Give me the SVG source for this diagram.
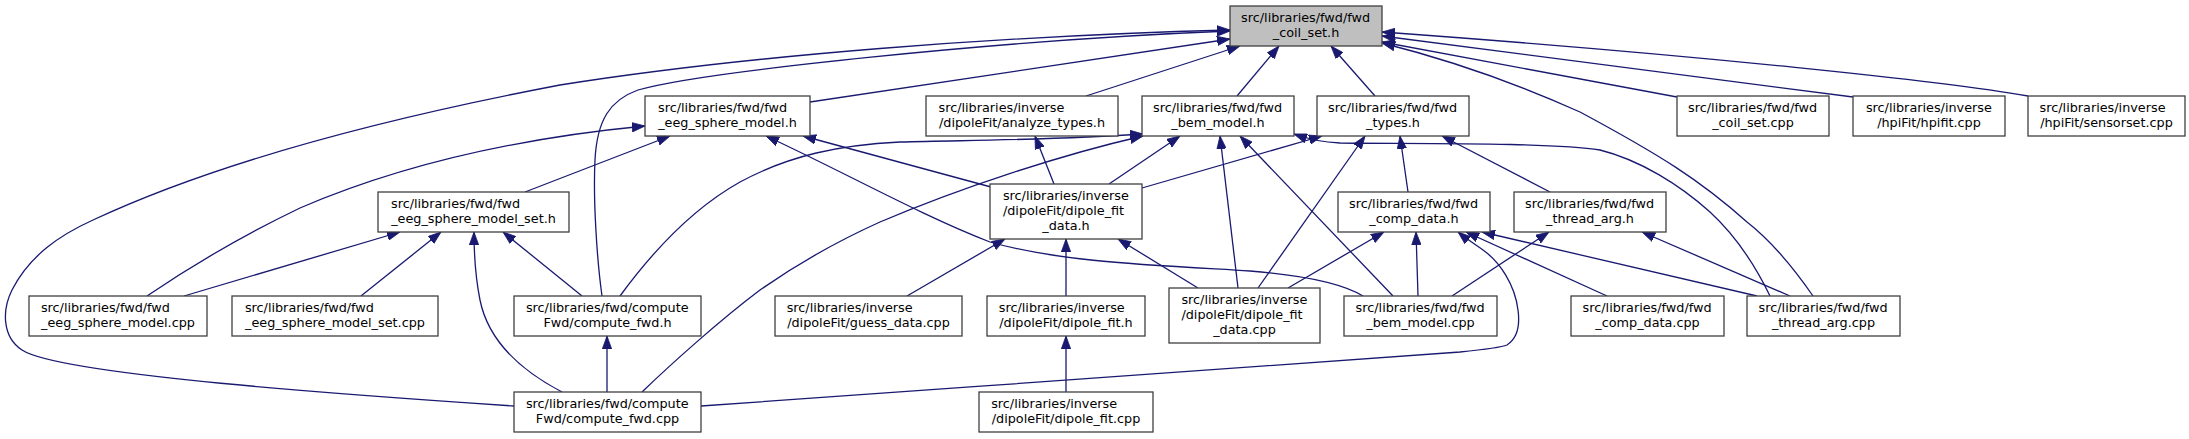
<svg xmlns="http://www.w3.org/2000/svg" width="2189" height="439" viewBox="0 0 2189 439">
<style>
.n rect{fill:#ffffff;stroke:#404040;stroke-width:1.3}
.root rect{fill:#bfbfbf}
.n text{font-family:"DejaVu Sans",Verdana,sans-serif;font-size:12.8px;fill:#000000}
.m{text-anchor:middle}
.e path{fill:none;stroke:#191970;stroke-width:1.3;marker-end:url(#ah)}
</style>
<defs>
<marker id="ah" markerUnits="userSpaceOnUse" markerWidth="13" markerHeight="10" viewBox="0 0 13 10" refX="13" refY="5" orient="auto">
<path d="M0,0.3 L13,5 L0,9.7 z" fill="#191970" stroke="#191970" stroke-width="0.8"/>
</marker>
</defs>
<rect width="2189" height="439" fill="#ffffff"/>
<g id="edges" class="e">
<path d="M514,406 C350,395 60,375 22,350 C2,337 2,310 12,290 C30,255 60,235 93,220 C200,170 350,125 560,85 C750,55 1000,36 1230,30"/>
<path d="M602,296 C597,260 593,200 595,160 C597,120 610,100 638,90 C700,72 1000,40 1230,31"/>
<path d="M810,102 L1230,39"/>
<path d="M1086,96 L1240,46"/>
<path d="M1237,96 L1279,46"/>
<path d="M1375,96 L1331,46"/>
<path d="M1677,97 L1382,42"/>
<path d="M1853,97 L1382,36"/>
<path d="M2028,96 C1950,82 1700,55 1382,32"/>
<path d="M1813,296 C1795,270 1770,240 1747,222 C1700,180 1660,155 1580,112 C1520,85 1450,60 1382,43"/>
<path d="M525,192 L670,136"/>
<path d="M991,187 L803,136"/>
<path d="M147,296 C200,260 250,232 300,208 C400,165 520,138 645,126"/>
<path d="M1363,296 C1340,282 1300,275 1250,271 C1150,265 1060,262 990,242 C920,215 840,170 766,136"/>
<path d="M1054,184 L1035,136"/>
<path d="M1109,184 L1180,136"/>
<path d="M1142,188 L1322,136"/>
<path d="M907,296 L1005,239"/>
<path d="M1066,296 L1066,239"/>
<path d="M1198,288 L1118,239"/>
<path d="M1066,392 L1066,336"/>
<path d="M620,296 C650,255 690,210 740,182 C790,155 840,145 900,142 C980,140 1060,140 1143,134"/>
<path d="M642,392 C670,365 720,320 760,290 C800,262 840,240 880,222 C960,188 1060,155 1143,136"/>
<path d="M1238,288 L1220,136"/>
<path d="M1393,296 L1240,136"/>
<path d="M1770,296 C1755,265 1735,235 1710,212 C1680,185 1640,160 1600,150 C1550,142 1400,144 1340,143 C1320,142 1305,138 1294,134"/>
<path d="M1408,192 L1400,136"/>
<path d="M1550,192 L1442,136"/>
<path d="M1258,288 L1365,136"/>
<path d="M1288,288 L1384,232"/>
<path d="M1418,296 L1416,232"/>
<path d="M1607,296 L1466,232"/>
<path d="M1757,296 L1482,232"/>
<path d="M701,406 C950,388 1250,368 1460,352 C1480,350 1500,348 1507,345 C1518,338 1520,325 1518,310 C1515,285 1500,262 1483,250 C1472,242 1464,237 1458,232"/>
<path d="M1452,296 L1549,232"/>
<path d="M1790,296 L1642,232"/>
<path d="M184,296 L400,232"/>
<path d="M361,296 L441,232"/>
<path d="M582,296 L503,232"/>
<path d="M562,392 C520,370 488,340 480,300 C475,275 474,255 474,232"/>
<path d="M607,392 L607,336"/>
</g>
<g id="n0" class="n root"><rect x="1230" y="6" width="152" height="40"/><text x="1241.1" y="22">src/libraries/fwd/fwd</text><text class="m" x="1306" y="37">_coil_set.h</text></g>
<g id="n1" class="n"><rect x="645" y="96" width="165" height="40"/><text x="658" y="112">src/libraries/fwd/fwd</text><text class="m" x="727.5" y="127">_eeg_sphere_model.h</text></g>
<g id="n2" class="n"><rect x="926" y="96" width="192" height="40"/><text x="938.5" y="112">src/libraries/inverse</text><text class="m" x="1022" y="127">/dipoleFit/analyze_types.h</text></g>
<g id="n3" class="n"><rect x="1142" y="96" width="152" height="40"/><text x="1153.1" y="112">src/libraries/fwd/fwd</text><text class="m" x="1218" y="127">_bem_model.h</text></g>
<g id="n4" class="n"><rect x="1317" y="96" width="152" height="40"/><text x="1328.1" y="112">src/libraries/fwd/fwd</text><text class="m" x="1393" y="127">_types.h</text></g>
<g id="n5" class="n"><rect x="1677" y="96" width="152" height="40"/><text x="1688.1" y="112">src/libraries/fwd/fwd</text><text class="m" x="1753" y="127">_coil_set.cpp</text></g>
<g id="n6" class="n"><rect x="1853" y="96" width="152" height="40"/><text x="1865.9" y="112">src/libraries/inverse</text><text class="m" x="1929" y="127">/hpiFit/hpifit.cpp</text></g>
<g id="n7" class="n"><rect x="2028" y="96" width="157" height="40"/><text x="2039.6" y="112">src/libraries/inverse</text><text class="m" x="2106.5" y="127">/hpiFit/sensorset.cpp</text></g>
<g id="n8" class="n"><rect x="378" y="192" width="191" height="40"/><text x="391" y="208">src/libraries/fwd/fwd</text><text class="m" x="473.5" y="223">_eeg_sphere_model_set.h</text></g>
<g id="n9" class="n"><rect x="990" y="184" width="152" height="55"/><text x="1002.9" y="200">src/libraries/inverse</text><text x="1002.9" y="215">/dipoleFit/dipole_fit</text><text class="m" x="1066" y="230">_data.h</text></g>
<g id="n10" class="n"><rect x="1338" y="192" width="152" height="40"/><text x="1349.1" y="208">src/libraries/fwd/fwd</text><text class="m" x="1414" y="223">_comp_data.h</text></g>
<g id="n11" class="n"><rect x="1514" y="192" width="152" height="40"/><text x="1525.1" y="208">src/libraries/fwd/fwd</text><text class="m" x="1590" y="223">_thread_arg.h</text></g>
<g id="n12" class="n"><rect x="29" y="296" width="178" height="40"/><text x="40.9" y="312">src/libraries/fwd/fwd</text><text class="m" x="118" y="327">_eeg_sphere_model.cpp</text></g>
<g id="n13" class="n"><rect x="232" y="296" width="206" height="40"/><text x="244.9" y="312">src/libraries/fwd/fwd</text><text class="m" x="335" y="327">_eeg_sphere_model_set.cpp</text></g>
<g id="n14" class="n"><rect x="514" y="296" width="187" height="40"/><text x="525.9" y="312">src/libraries/fwd/compute</text><text class="m" x="607.5" y="327">Fwd/compute_fwd.h</text></g>
<g id="n15" class="n"><rect x="775" y="296" width="187" height="40"/><text x="786.7" y="312">src/libraries/inverse</text><text class="m" x="868.5" y="327">/dipoleFit/guess_data.cpp</text></g>
<g id="n16" class="n"><rect x="987" y="296" width="158" height="40"/><text x="998.8" y="312">src/libraries/inverse</text><text class="m" x="1066" y="327">/dipoleFit/dipole_fit.h</text></g>
<g id="n17" class="n"><rect x="1169" y="288" width="151" height="55"/><text x="1181.4" y="304">src/libraries/inverse</text><text x="1181.4" y="319">/dipoleFit/dipole_fit</text><text class="m" x="1244.5" y="334">_data.cpp</text></g>
<g id="n18" class="n"><rect x="1344" y="296" width="153" height="40"/><text x="1355.6" y="312">src/libraries/fwd/fwd</text><text class="m" x="1420.5" y="327">_bem_model.cpp</text></g>
<g id="n19" class="n"><rect x="1571" y="296" width="153" height="40"/><text x="1582.6" y="312">src/libraries/fwd/fwd</text><text class="m" x="1647.5" y="327">_comp_data.cpp</text></g>
<g id="n20" class="n"><rect x="1747" y="296" width="153" height="40"/><text x="1758.6" y="312">src/libraries/fwd/fwd</text><text class="m" x="1823.5" y="327">_thread_arg.cpp</text></g>
<g id="n21" class="n"><rect x="514" y="392" width="187" height="40"/><text x="525.9" y="408">src/libraries/fwd/compute</text><text class="m" x="607.5" y="423">Fwd/compute_fwd.cpp</text></g>
<g id="n22" class="n"><rect x="979" y="392" width="174" height="40"/><text x="991.2" y="408">src/libraries/inverse</text><text class="m" x="1066" y="423">/dipoleFit/dipole_fit.cpp</text></g>
</svg>
